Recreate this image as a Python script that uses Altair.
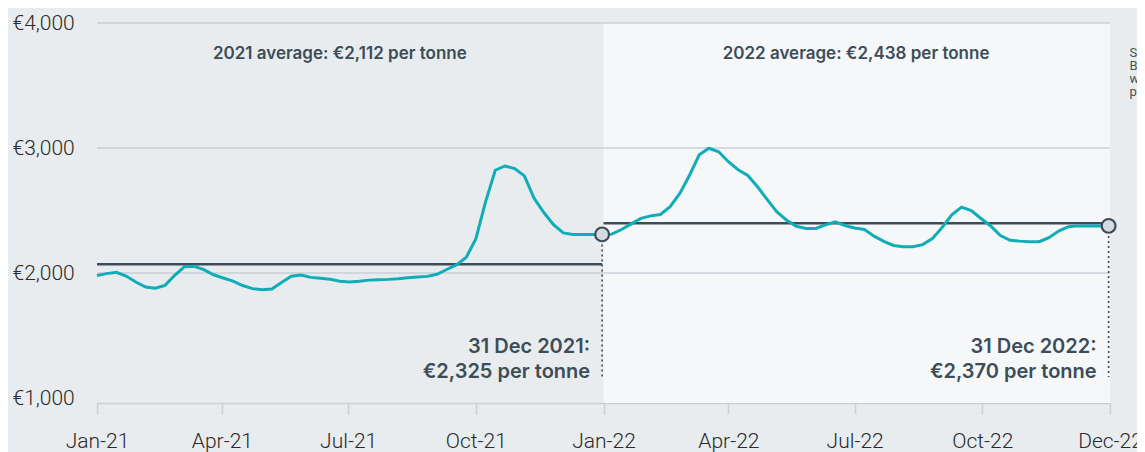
import altair as alt
import pandas as pd

# ---------------- data ----------------
week_dates = pd.date_range("2021-01-01", periods=105, freq="7D").strftime("%Y-%m-%d").tolist()
price = [1980, 1995, 2006, 1976, 1928, 1888, 1878, 1901, 1982, 2050,
         2053, 2027, 1986, 1960, 1935, 1900, 1875, 1867, 1872, 1924,
         1974, 1984, 1965, 1958, 1950, 1934, 1928, 1934, 1943, 1946,
         1949, 1954, 1962, 1968, 1973, 1990, 2028, 2065, 2124, 2272,
         2569, 2822, 2856, 2835, 2777, 2598, 2484, 2387, 2321, 2309,
         2309, 2309, 2309,
         2311, 2348, 2393, 2437, 2457, 2468, 2531, 2637, 2782, 2946,
         2998, 2970, 2890, 2826, 2780, 2690, 2587, 2488, 2422, 2374,
         2357, 2357, 2385, 2409, 2380, 2360, 2348, 2295, 2253, 2220,
         2210, 2210, 2227, 2275, 2364, 2465, 2527, 2499, 2436, 2376,
         2299, 2262, 2255, 2250, 2250, 2283, 2335, 2370, 2377, 2377,
         2377, 2377]

avg_start = ["2021-01-01", "2022-01-01"]
avg_end = ["2021-12-31", "2022-12-31"]
avg_drawn = [2070, 2398]
avg_labels = ["2021 average: €2,112 per tonne", "2022 average: €2,438 per tonne"]
avg_label_dates = ["2021-06-25", "2022-07-02"]
avg_label_y = [3755, 3755]

year_end_dates = ["2021-12-31", "2022-12-31"]
year_end_price = [2309, 2377]
dotted_end = [1168, 1168]
note_line1 = ["31 Dec 2021:", "31 Dec 2022:"]
note_line2 = ["€2,325 per tonne", "€2,370 per tonne"]
note_y1 = [1410, 1410]
note_y2 = [1210, 1210]

region_start = ["2022-01-01"]
region_end = ["2023-01-01"]

grid_values = [2000, 3000, 4000]
y_ticks = [1000, 2000, 3000, 4000]
x_tick_dates = [(2021, 1), (2021, 4), (2021, 7), (2021, 10), (2022, 1),
                (2022, 4), (2022, 7), (2022, 10), (2023, 1)]

side_text = ["Source:", "Bloomberg", "weekly", "prices"]
side_y = [3764, 3660, 3556, 3452]
side_date = "2023-01-15"

# ---------------- tables ----------------
df_line = pd.DataFrame({"date": week_dates, "price": price})
df_avg = pd.DataFrame({"start": avg_start, "end": avg_end, "value": avg_drawn})
df_avg_lab = pd.DataFrame({"date": avg_label_dates, "y": avg_label_y, "label": avg_labels})
df_mark = pd.DataFrame({"date": year_end_dates, "price": year_end_price, "end": dotted_end})
df_note = pd.DataFrame({
    "date": year_end_dates * 2,
    "y": note_y1 + note_y2,
    "label": note_line1 + note_line2,
})
df_region = pd.DataFrame({"start": region_start, "end": region_end})
df_grid = pd.DataFrame({"v": grid_values})
df_side = pd.DataFrame({"date": [side_date] * len(side_text), "y": side_y, "label": side_text})

DARK = "#3c4d57"
GRIDC = "#c8d0d6"
TEAL = "#10adb9"

xscale = alt.Scale(
    type="utc",
    domain=[alt.DateTime(year=2021, month=1, date=1, utc=True),
            alt.DateTime(year=2023, month=1, date=1, utc=True)],
    nice=False,
)
yscale = alt.Scale(domain=[960, 4000], nice=False, zero=False)

x_axis = alt.Axis(
    values=[alt.DateTime(year=y, month=m, date=1, utc=True) for y, m in x_tick_dates],
    labelExpr="utcyear(datum.value) == 2023 ? 'Dec-22' : utcFormat(datum.value, '%b-%y')",
    title=None, grid=False,
    domainColor=GRIDC, domainWidth=1.5,
    tickColor=GRIDC, tickWidth=1.5, tickSize=11,
    labelFont="Roboto", labelFontSize=21, labelFontWeight=300, labelColor="#2a2a2a",
    labelPadding=16, labelFlush=False, labelOverlap=False,
)
y_axis = alt.Axis(
    values=y_ticks,
    labelExpr="'€' + format(datum.value, ',')",
    title=None, grid=False, domain=False, ticks=False,
    labelAlign="left", labelBaseline="middle", labelPadding=85,
    labelFont="Roboto", labelFontSize=21, labelFontWeight=300, labelColor="#2a2a2a",
)


def X(field):
    return alt.X(field, scale=xscale, axis=x_axis)


def Y(field):
    return alt.Y(field, scale=yscale, axis=y_axis)


region = alt.Chart(df_region).mark_rect(color="#f5f7f9").encode(
    x=X("start:T"),
    x2="end:T",
    y=alt.value(0),
    y2=alt.value(380),
)

grid = alt.Chart(df_grid).mark_rule(color=GRIDC, strokeWidth=1.5).encode(
    y=Y("v:Q"),
    x=alt.value(0),
    x2=alt.value(1013),
)

avg = alt.Chart(df_avg).mark_rule(color=DARK, strokeWidth=2.5).encode(
    x=X("start:T"),
    x2="end:T",
    y=Y("value:Q"),
)

line = alt.Chart(df_line).mark_line(color=TEAL, strokeWidth=3).encode(
    x=X("date:T"),
    y=Y("price:Q"),
)

dotted = alt.Chart(df_mark).mark_rule(color=DARK, strokeWidth=1.6, strokeDash=[2, 3]).encode(
    x=X("date:T"),
    y=Y("price:Q"),
    y2="end:Q",
)

markers = alt.Chart(df_mark).mark_point(
    shape="circle", filled=True, size=190, fill="#d4dbe0", stroke=DARK, strokeWidth=2.2, opacity=1
).encode(
    x=X("date:T"),
    y=Y("price:Q"),
)

avg_text = alt.Chart(df_avg_lab).mark_text(
    font="Inter", fontSize=17, fontWeight=600, color=DARK, align="center", baseline="middle"
).encode(
    x=X("date:T"),
    y=Y("y:Q"),
    text="label:N",
)

notes = alt.Chart(df_note).mark_text(
    font="Inter", fontSize=20, fontWeight=600, color=DARK, align="right", baseline="middle", dx=-12
).encode(
    x=X("date:T"),
    y=Y("y:Q"),
    text="label:N",
)

side = alt.Chart(df_side).mark_text(
    font="Roboto", fontSize=13, color="#44525a", align="left", baseline="middle", clip=False
).encode(
    x=X("date:T"),
    y=Y("y:Q"),
    text="label:N",
)

chart = alt.layer(
    region, grid, avg, line, dotted, markers, avg_text, notes, side
).properties(
    width=1013,
    height=380,
    padding={"left": 89, "top": 15, "right": 27, "bottom": 50},
    autosize=alt.AutoSizeParams(type="none"),
    background="#e8ecef",
).configure_view(stroke=None)

chart.save("out.html", embed_options={"renderer": "svg", "actions": False})
